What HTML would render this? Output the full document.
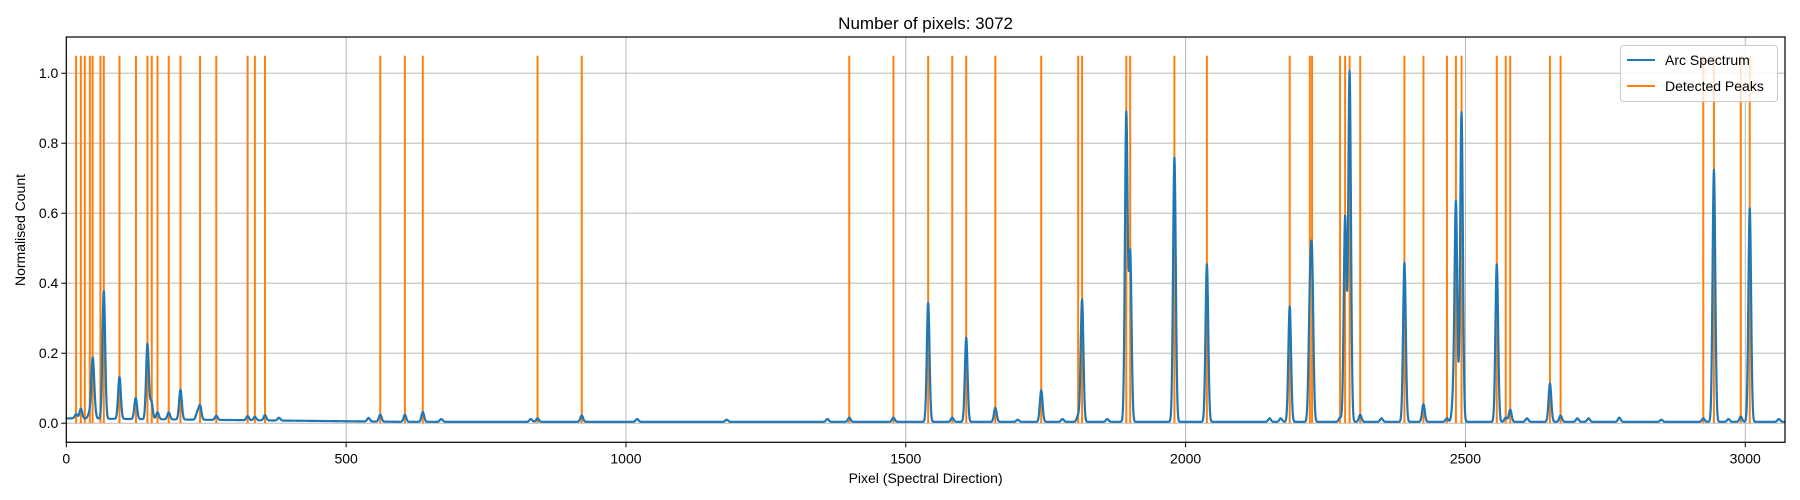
<!DOCTYPE html>
<html><head><meta charset="utf-8"><style>
html,body{margin:0;padding:0;background:#fff;}
svg{display:block;font-family:"Liberation Sans","DejaVu Sans",sans-serif;}
</style></head><body>
<svg id="chart" width="1800" height="500" viewBox="0 0 1800 500">
<rect x="0" y="0" width="1800" height="500" fill="#fff"/>
<text x="925.6" y="29" font-size="17" text-anchor="middle" fill="#000">Number of pixels: 3072</text>
<g id="grid"></g>
<g id="series"></g>
<g id="axes"></g>
<text x="925.6" y="483" font-size="14" text-anchor="middle" fill="#000">Pixel (Spectral Direction)</text>
<text x="0" y="0" font-size="14" text-anchor="middle" fill="#000" transform="translate(25,230) rotate(-90)">Normalised Count</text>
<g>
<rect x="1620.5" y="45.5" width="157" height="56" rx="3" fill="#fff" fill-opacity="0.8" stroke="#ccc"/>
<line x1="1627" y1="60" x2="1655" y2="60" stroke="#1f77b4" stroke-width="2"/>
<text x="1665" y="65" font-size="14" fill="#000">Arc Spectrum</text>
<line x1="1627" y1="86" x2="1655" y2="86" stroke="#ff7f0e" stroke-width="2"/>
<text x="1665" y="91" font-size="14" fill="#000">Detected Peaks</text>
</g>
</svg>
<script>
const xTicks = [0, 500, 1000, 1500, 2000, 2500, 3000];
const yTicks = [0.0, 0.2, 0.4, 0.6, 0.8, 1.0];
const yTickLabels = ["0.0", "0.2", "0.4", "0.6", "0.8", "1.0"];
const detectedPeaks = [17.5,26,33,42,47,61,67,95,124.5,145,152.7,163,183,204,239,268,324,337,355,561,605,637,842,921,1399,1478,1540,1583,1608,1660,1742,1808,1815,1894,1901,1980,2038,2186,2222,2226,2276,2285,2293,2312,2391,2425,2467,2483,2493,2556,2572,2580,2651,2670,2925,2944,2992,3008];
const lineCenters = [17.5,26,41,47,50,67,95,124,145,152,163,183,204,234,239,268,324,337,355,380,540,561,605,637,670,830,842,921,1020,1180,1360,1399,1478,1540,1583,1608,1660,1700,1742,1780,1808,1815,1860,1894,1901,1980,2038,2150,2170,2186,2222,2226,2276,2285,2293,2312,2350,2391,2425,2467,2478,2483,2493,2556,2572,2580,2610,2651,2670,2700,2720,2775,2850,2925,2944,2970,2992,3008,3060];
const lineHeights = [0.012,0.028,0.015,0.16,0.03,0.365,0.12,0.06,0.215,0.05,0.02,0.02,0.085,0.02,0.04,0.012,0.012,0.01,0.015,0.008,0.01,0.02,0.02,0.028,0.008,0.008,0.01,0.018,0.008,0.006,0.008,0.012,0.012,0.34,0.012,0.24,0.04,0.006,0.09,0.008,0.018,0.35,0.008,0.88,0.48,0.755,0.45,0.01,0.01,0.33,0.3,0.415,0.012,0.585,1.0,0.02,0.01,0.455,0.05,0.01,0.06,0.625,0.885,0.45,0.012,0.035,0.01,0.11,0.018,0.01,0.01,0.012,0.006,0.01,0.72,0.008,0.015,0.61,0.008];
const baseStart = 0.014, baseEnd = 0.004;

const L=66.3, R=1785, T=37, B=442.3;
const XMIN=0, XMAX=3071, YMIN=-0.0545, YMAX=1.1035;
const xs = v => L + (v-XMIN)/(XMAX-XMIN)*(R-L);
const ys = v => B - (v-YMIN)/(YMAX-YMIN)*(B-T);
const NS="http://www.w3.org/2000/svg";
function mk(tag, attrs, parent){const e=document.createElementNS(NS,tag);for(const k in attrs)e.setAttribute(k,attrs[k]);parent.appendChild(e);return e;}
const grid=document.getElementById('grid'), series=document.getElementById('series'), axes=document.getElementById('axes');

xTicks.forEach(t=>{
  const g=mk('line',{x1:xs(t),x2:xs(t),y1:T,y2:B,stroke:'#b0b0b0','stroke-width':0.9},grid);
  
  
  const tk=mk('line',{x1:xs(t),x2:xs(t),y1:B,y2:B+5,stroke:'#000','stroke-width':1},axes);
  
  
  const tx=mk('text',{x:xs(t),y:B+21,'font-size':14,'text-anchor':'middle',fill:'#000'},axes);
  tx.textContent=String(t);
  
  
});
yTicks.forEach((t,i)=>{
  const g=mk('line',{x1:L,x2:R,y1:ys(t),y2:ys(t),stroke:'#b0b0b0','stroke-width':0.9},grid);
  
  
  const tk=mk('line',{x1:L-5,x2:L,y1:ys(t),y2:ys(t),stroke:'#000','stroke-width':1},axes);
  
  
  const tx=mk('text',{x:L-8,y:ys(t)+5,'font-size':14,'text-anchor':'end',fill:'#000'},axes);
  tx.textContent=yTickLabels[i];
  
  
});
const frame=mk('rect',{x:L,y:T,width:R-L,height:B-T,fill:'none',stroke:'#000','stroke-width':1.2},axes);



detectedPeaks.forEach(p=>{
  const l=mk('line',{x1:xs(p),x2:xs(p),y1:ys(0),y2:ys(1.05),stroke:'#ff7f0e','stroke-width':2},series);
  
  
});

// spectrum curve
let pts=[];
for(let p=0;p<=3071;p+=0.5){
  let v=baseStart+(baseEnd-baseStart)*Math.min(1,p/600);
  for(let i=0;i<lineCenters.length;i++){
    const d=(p-lineCenters[i])/2.4;
    if(Math.abs(d)<6) v+=lineHeights[i]*Math.exp(-0.5*d*d);
  }
  pts.push(xs(p).toFixed(2)+','+ys(v).toFixed(2));
}
const spec=mk('polyline',{points:pts.join(' '),fill:'none',stroke:'#1f77b4','stroke-width':2.2,'stroke-linejoin':'round'},series);


</script>
</body></html>
